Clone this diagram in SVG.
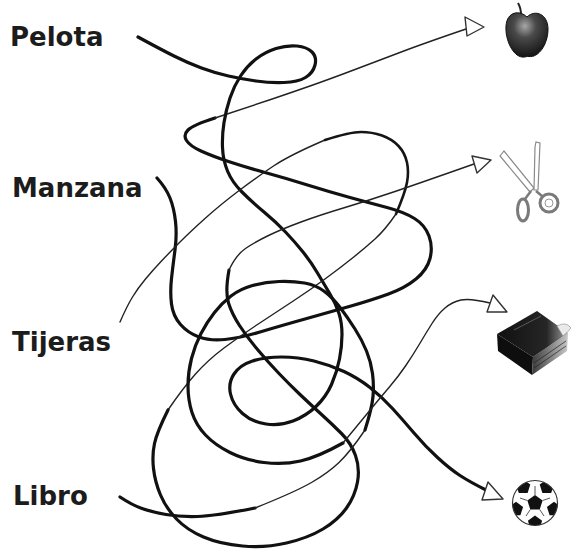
<svg xmlns="http://www.w3.org/2000/svg" width="571" height="554" viewBox="0 0 571 554">
  <defs>
    <style>
      .label { font-family: "DejaVu Sans", "Liberation Sans", sans-serif; font-weight: bold; font-size: 26px; fill: #1c1c1c; }
      .thick { fill: none; stroke: #111; stroke-width: 3.2; stroke-linecap: round; stroke-linejoin: round; }
      .mid { fill: none; stroke: #151515; stroke-width: 2.6; stroke-linecap: round; stroke-linejoin: round; }
      .thin { fill: none; stroke: #222; stroke-width: 1.4; stroke-linecap: round; stroke-linejoin: round; }
      .head { fill: #fff; stroke: #333; stroke-width: 1.4; stroke-linejoin: round; }
      .steel { fill: #fff; stroke: #8a8a8a; stroke-width: 1.2; }
      .ring { fill: #fff; stroke: #7a7a7a; stroke-width: 3; }
      .patch { fill: #111; }
      .seam { stroke: #444; stroke-width: 0.9; fill: none; }
    </style>
    <radialGradient id="appleShade" cx="0.45" cy="0.3" r="0.75">
      <stop offset="0" stop-color="#a8a8a8"/>
      <stop offset="0.35" stop-color="#4a4a4a"/>
      <stop offset="1" stop-color="#0e0e0e"/>
    </radialGradient>
    <linearGradient id="coverShade" x1="0" y1="0" x2="1" y2="0">
      <stop offset="0" stop-color="#101010"/>
      <stop offset="0.7" stop-color="#262626"/>
      <stop offset="1" stop-color="#a0a0a0"/>
    </linearGradient>
    <linearGradient id="pageShade" x1="0" y1="0" x2="1" y2="0">
      <stop offset="0" stop-color="#3a3a3a"/>
      <stop offset="1" stop-color="#c8c8c8"/>
    </linearGradient>
    <clipPath id="ballClip">
      <circle cx="535" cy="503" r="22.5"/>
    </clipPath>
  </defs>

  <rect width="571" height="554" fill="#fff"/>

  <!-- word labels -->
  <g id="node-pelota"><text class="label" x="10" y="46">Pelota</text></g>
  <g id="node-manzana"><text class="label" x="12" y="197">Manzana</text></g>
  <g id="node-tijeras"><text class="label" x="12" y="351">Tijeras</text></g>
  <g id="node-libro"><text class="label" x="13" y="505">Libro</text></g>

  <!-- tangled lines -->
  <g id="connectors">
    <!-- Manzana to apple -->
    <g id="line-manzana">
      <path class="thick" d="M157,178 Q166,188 170,198 Q174,208 175.5,221.5 Q177,235 175,250 Q173,265 171.5,278.5 Q170,292 171.5,304 Q173,316 180.5,324.5 Q188,333 199,337 Q210,341 225,339.5 Q240,338 260,332 Q280,326 305,319 Q330,312 351,306 Q372,300 388.5,294 Q405,288 416,279 Q427,270 430,258.5 Q433,247 429,236 Q425,225 414.5,218.5 Q404,212 387,207.5 Q370,203 350,197.5 Q330,192 307.5,185 Q285,178 265,172.5 Q245,167 228.5,161.5 Q212,156 201,151 Q190,146 186.5,140.5 Q183,135 188,130 Q193,125 215,118"/>
      <path class="thin" d="M215,118 Q250,106.5 270,99.75 Q290,93 310,86 Q330,79 355,69.5 Q380,60 402.5,51.5 Q425,43 466,29"/>
    </g>
    <!-- Pelota to ball -->
    <g id="line-pelota">
      <path class="thick" d="M138,37 Q160,49 174,56 Q188,63 201.5,68 Q215,73 228.5,76 Q242,79 256,81 Q270,83 284,82.5 Q298,82 305.5,77.5 Q313,73 315,65 Q317,57 312,52 Q307,47 297,46 Q287,45 276,48.5 Q265,52 256,59 Q247,66 240.5,76 Q234,86 230,98 Q226,110 224,122.5 Q222,135 222.5,147.5 Q223,160 227.5,171 Q232,182 242,192 Q252,202 264,212 Q276,222 285.5,232 Q295,242 303,252 Q311,262 317.5,273 Q324,284 330,294 Q336,304 339,313.5 Q342,323 342,334.5 Q342,346 339.5,359 Q337,372 331.5,384.5 Q326,397 316,406.5 Q306,416 293,421 Q280,426 266,424 Q252,422 242.5,413.5 Q233,405 230.5,394 Q228,383 234,374 Q240,365 252.5,361 Q265,357 281.5,357 Q298,357 314,361 Q330,365 344,371.5 Q358,378 370,387.5 Q382,397 392.5,408.5 Q403,420 414,433 Q425,446 437.5,457.5 Q450,469 460,475.5 Q470,482 486,490"/>
    </g>
    <!-- Tijeras to scissors -->
    <g id="line-tijeras">
      <path class="thin" d="M120,322 Q127,306 132.5,297 Q138,288 145.5,279 Q153,270 161.5,261 Q170,252 180,242 Q190,232 205,218.5 Q220,205 238.5,191 Q257,177 273.5,166 Q290,155 325,140"/>
      <path class="mid" d="M325,140 Q350,132 361,132 Q372,132 382,135.5 Q392,139 398.5,146 Q405,153 407,162.5 Q409,172 407,182.5 Q405,193 396,214"/>
      <path class="thin" d="M396,214 Q385,230 375,239 Q365,248 352.5,258 Q340,268 325,279 Q310,290 292.5,301.5 Q275,313 257.5,324.5 Q240,336 224,348 Q208,360 195.5,374 Q183,388 168,410"/>
      <path class="thick" d="M168,410 Q157,432 154.5,443.5 Q152,455 153.5,468.5 Q155,482 160.5,495 Q166,508 176.5,519 Q187,530 203.5,537 Q220,544 242.5,546 Q265,548 286.5,543 Q308,538 323,529 Q338,520 346.5,508 Q355,496 357.5,482 Q360,468 355.5,455.5 Q351,443 341.5,433.5 Q332,424 321,414 Q310,404 300,394.5 Q290,385 279,373.5 Q268,362 257.5,349.5 Q247,337 239.5,325.5 Q232,314 228.5,303 Q225,292 229,270"/>
      <path class="thin" d="M229,270 Q236,255 245.5,248.5 Q255,242 268.5,235.5 Q282,229 301,222 Q320,215 345,207.5 Q370,200 395,191.5 Q420,183 474,164"/>
    </g>
    <!-- Libro to book -->
    <g id="line-libro">
      <path class="thick" d="M120,497 Q132,505 142,508.5 Q152,512 166,514.5 Q180,517 197.5,516.5 Q215,516 255,508"/>
      <path class="thin" d="M255,508 Q295,492 311.5,482.5 Q328,473 339,462.5 Q350,452 365,430"/>
      <path class="thick" d="M365,430 Q372,408 373,396.5 Q374,385 372.5,373.5 Q371,362 366.5,351 Q362,340 355,329 Q348,318 340.5,308 Q333,298 324.5,291.5 Q316,285 304.5,283 Q293,281 279,281.5 Q265,282 252.5,285.5 Q240,289 231,296 Q222,303 214.5,312.5 Q207,322 201,333.5 Q195,345 191.5,358.5 Q188,372 188,386 Q188,400 192,412.5 Q196,425 205.5,435 Q215,445 230,452.5 Q245,460 264,462.5 Q283,465 300.5,461 Q318,457 343,443"/>
      <path class="thin" d="M343,443 Q362,420 371,409 Q380,398 389,387.5 Q398,377 405.5,366 Q413,355 419.5,344 Q426,333 432,323.5 Q438,314 445,308 Q452,302 461,300 Q470,298 490,303"/>
    </g>
    <!-- open arrowheads -->
    <polygon class="head" points="465,17 484,27 467,36"/>
    <polygon class="head" points="472,156 491,160 477,173"/>
    <polygon class="head" points="493,295 507,312 487,312"/>
    <polygon class="head" points="488,482 503,499 482,500"/>
  </g>

  <!-- apple -->
  <g id="pic-apple">
    <path d="M521,15 Q521,8 518,3" fill="none" stroke="#222" stroke-width="2"/>
    <path d="M527,17 C520,10 507,11 506,26 C505,40 513,56 522,57 C525,57.5 527,56 529,56.5 C538,58 548,45 548,29 C548,14 535,9 527,17 Z" fill="url(#appleShade)" stroke="#111" stroke-width="1"/>
  </g>

  <!-- scissors -->
  <g id="pic-scissors">
    <polygon class="steel" points="500,156 504,151 534,188 530,192"/>
    <polygon class="steel" points="535,147 536,142 540,143 538,190 534,190"/>
    <path d="M531,191 L525,199 M536,191 L542,196" stroke="#7a7a7a" stroke-width="2.5" fill="none"/>
    <ellipse class="ring" cx="523" cy="210" rx="5.5" ry="11"/>
    <circle class="ring" cx="549" cy="203" r="9"/>
    <circle cx="549" cy="203" r="4" fill="none" stroke="#999" stroke-width="1"/>
  </g>

  <!-- book -->
  <g id="pic-book">
    <polygon points="497,334 533,357 532,375 498,351" fill="#0e0e0e"/>
    <polygon points="533,357 568,333 567,351 532,375" fill="url(#pageShade)"/>
    <path d="M534,363 L566,341 M534,368 L566,346" stroke="#222" stroke-width="0.7"/>
    <polygon points="497,334 537,311 568,333 533,357" fill="url(#coverShade)"/>
    <path d="M557,326 Q566,321 571,328 Q567,333 563,336 Z" fill="#eaeaea" stroke="#888" stroke-width="0.6"/>
    <path d="M514,330 L541,316" stroke="#6a6a6a" stroke-width="0.8"/>
  </g>

  <!-- ball -->
  <g id="pic-ball">
    <circle cx="535" cy="503" r="22.5" fill="#fff"/>
    <g clip-path="url(#ballClip)">
      <polygon class="patch" points="535,495 542.6,500.5 539.7,509.5 530.3,509.5 527.4,500.5"/>
      <polygon class="patch" points="527.6,492.9 518.8,492.9 516.1,484.5 523.2,479.3 530.3,484.5"/>
      <polygon class="patch" points="542.4,492.9 539.7,484.5 546.8,479.3 553.9,484.5 551.2,492.9"/>
      <polygon class="patch" points="546.9,506.9 554,501.7 561.1,506.9 558.4,515.3 549.6,515.3"/>
      <polygon class="patch" points="535,515.5 542.1,520.7 539.4,529.1 530.6,529.1 527.9,520.7"/>
      <polygon class="patch" points="523.1,506.9 520.4,515.3 511.6,515.3 508.9,506.9 516,501.7"/>
      <path class="seam" d="M535,495 L535,486 M542.6,500.5 L550,498 M539.7,509.5 L544,516 M530.3,509.5 L526,516 M527.4,500.5 L520,498"/>
    </g>
    <circle cx="535" cy="503" r="22.5" fill="none" stroke="#333" stroke-width="1.2"/>
  </g>
</svg>
